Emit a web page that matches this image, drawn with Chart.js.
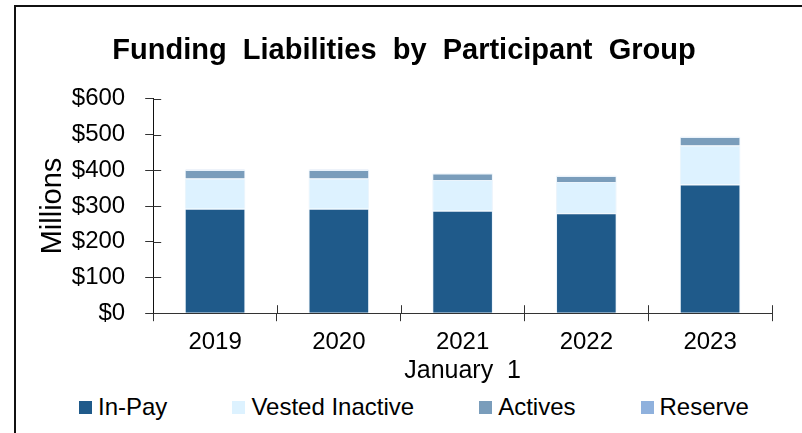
<!DOCTYPE html>
<html lang="en">
<head>
    <meta charset="UTF-8">
    <title>Funding Liabilities by Participant Group</title>
    <script src="https://cdn.jsdelivr.net/npm/chart.js"></script>
    <style>
        html, body {
            margin: 0;
            padding: 0;
            background: #ffffff;
            overflow: hidden;
            font-family: "Liberation Sans", Arial, sans-serif;
        }
        .frame {
            position: absolute;
            left: 14px;
            top: 5px;
            width: 800px;
            height: 440px;
            border-left: 2px solid #111;
            border-top: 2px solid #111;
        }
        .chart-box {
            position: absolute;
            left: 16px;
            top: 7px;
            width: 786px;
            height: 381px;
        }
        #legend {
            position: absolute;
            left: 79px;
            top: 393px;
            display: flex;
            gap: 65px;
            font-size: 24px;
            line-height: 28px;
            color: #000;
            white-space: nowrap;
        }
        #legend .item {
            display: flex;
            align-items: center;
        }
        #legend .swatch {
            width: 13px;
            height: 13px;
            margin-right: 6px;
        }
    </style>
</head>
<body>
<div class="frame"></div>
<div class="chart-box">
    <canvas id="liabChart"></canvas>
</div>
<div id="legend"></div>

<script>
    // values in $ millions
    const years = ['2019', '2020', '2021', '2022', '2023'];
    const inPay = [292, 292, 287, 280, 360];
    const vestedInactive = [85, 85, 86, 87, 109];
    const actives = [24, 24, 18, 17, 24];
    const reserve = [1, 1, 1, 1, 1];

    const FONT = 'Liberation Sans, Arial, sans-serif';
    const barEdge = 'rgba(225, 238, 250, 0.7)';

    // tick marks in the reference cross the axis lines, draw the inner half too
    const crossTicks = {
        id: 'crossTicks',
        afterDraw(chart) {
            const {ctx, chartArea, scales: {x, y}} = chart;
            ctx.save();
            ctx.strokeStyle = '#333';
            ctx.lineWidth = 1;
            ctx.beginPath();
            y.ticks.forEach((t, i) => {
                const py = Math.round(y.getPixelForTick(i)) + 0.5;
                ctx.moveTo(chartArea.left, py);
                ctx.lineTo(chartArea.left + 8, py);
            });
            const n = x.ticks.length;
            for (let i = 1; i <= n; i++) {
                const px = Math.round(chartArea.left + i * (chartArea.right - chartArea.left) / n) + 0.5;
                ctx.moveTo(px, chartArea.bottom);
                ctx.lineTo(px, chartArea.bottom - 8);
            }
            ctx.stroke();
            ctx.restore();
        }
    };

    const ctx = document.getElementById('liabChart').getContext('2d');
    const chart = new Chart(ctx, {
        type: 'bar',
        data: {
            labels: years,
            datasets: [
                { label: 'In-Pay', data: inPay, backgroundColor: '#1f5a8a' },
                { label: 'Vested Inactive', data: vestedInactive, backgroundColor: '#ddf2ff' },
                { label: 'Actives', data: actives, backgroundColor: '#7a9dbb' },
                { label: 'Reserve', data: reserve, backgroundColor: '#8fb1dd' }
            ].map(ds => Object.assign(ds, {
                borderColor: barEdge,
                borderWidth: 1,
                categoryPercentage: 0.49,
                barPercentage: 1
            }))
        },
        plugins: [crossTicks],
        options: {
            responsive: true,
            maintainAspectRatio: false,
            animation: false,
            layout: {
                padding: { left: 20, right: 30, top: 4, bottom: 2 }
            },
            plugins: {
                title: {
                    display: true,
                    text: 'Funding  Liabilities  by  Participant  Group',
                    color: '#000',
                    font: { family: FONT, size: 29, weight: 'bold' },
                    padding: { top: 23, bottom: 30 }
                },
                legend: { display: false },
                tooltip: { enabled: false }
            },
            scales: {
                x: {
                    stacked: true,
                    border: { color: '#333', width: 1 },
                    grid: {
                        drawOnChartArea: false,
                        drawTicks: true,
                        tickLength: 8,
                        color: '#333',
                        offset: true
                    },
                    ticks: {
                        color: '#000',
                        font: { family: FONT, size: 24 },
                        padding: 7
                    },
                    title: {
                        display: true,
                        text: 'January  1',
                        color: '#000',
                        font: { family: FONT, size: 25 },
                        padding: { top: -8, bottom: 0 }
                    }
                },
                y: {
                    stacked: true,
                    min: 0,
                    max: 600,
                    border: { color: '#111', width: 1 },
                    grid: {
                        drawOnChartArea: false,
                        drawTicks: true,
                        tickLength: 8,
                        color: '#333'
                    },
                    ticks: {
                        stepSize: 100,
                        autoSkip: false,
                        color: '#000',
                        font: { family: FONT, size: 24 },
                        padding: 20,
                        callback: v => '$' + v
                    },
                    title: {
                        display: true,
                        text: 'Millions',
                        color: '#000',
                        font: { family: FONT, size: 29 },
                        padding: { top: 0, bottom: -19 }
                    }
                }
            }
        }
    });

    // html legend built from the datasets
    const legendEl = document.getElementById('legend');
    chart.data.datasets.forEach(ds => {
        const item = document.createElement('div');
        item.className = 'item';
        const sw = document.createElement('span');
        sw.className = 'swatch';
        sw.style.background = ds.backgroundColor;
        const label = document.createElement('span');
        label.textContent = ds.label;
        item.appendChild(sw);
        item.appendChild(label);
        legendEl.appendChild(item);
    });
</script>
</body>
</html>
